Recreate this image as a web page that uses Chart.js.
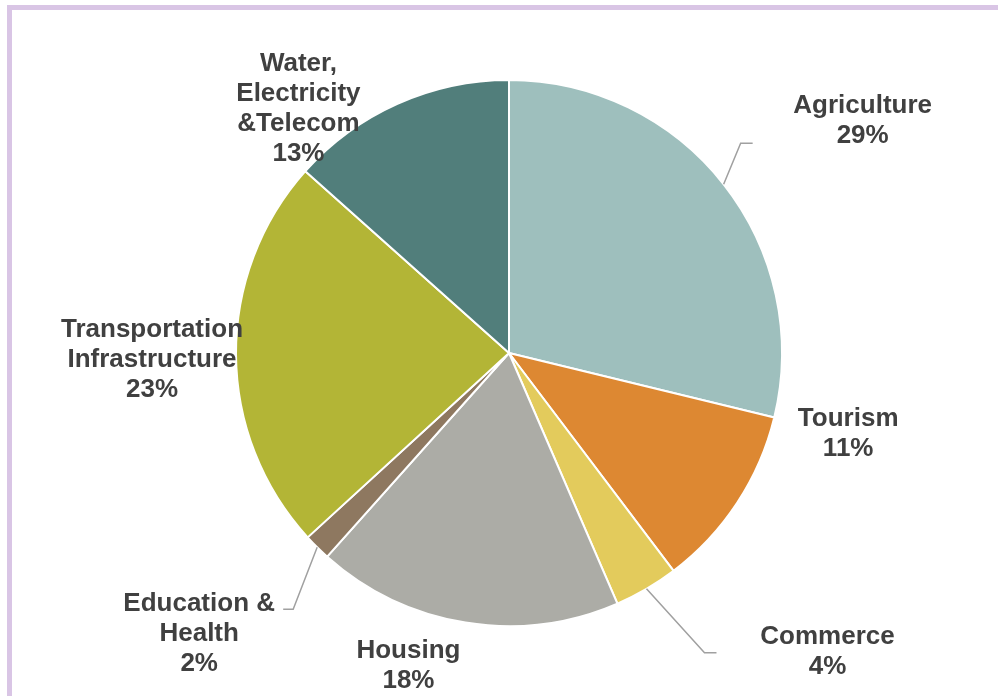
<!DOCTYPE html>
<html>
<head>
<meta charset="utf-8">
<script src="https://cdn.jsdelivr.net/npm/chart.js@4/dist/chart.umd.min.js"></script>
<style>
  html, body { margin: 0; padding: 0; background: #ffffff; overflow: hidden; }
  #wrap { position: relative; width: 998px; height: 696px; }
  #frame { position: absolute; left: 7px; top: 5px; width: 1200px; height: 900px;
           border-left: 5px solid #d9c5e5; border-top: 5px solid #d9c5e5; box-sizing: border-box; }
  canvas { position: absolute; left: 0; top: 0; }
</style>
</head>
<body>
<div id="wrap">
  <div id="frame"></div>
  <canvas id="c" width="998" height="696"></canvas>
</div>
<script>
// ---- data ----
const categories = [
  ["Agriculture"],
  ["Tourism"],
  ["Commerce"],
  ["Housing"],
  ["Education &", "Health"],
  ["Transportation", "Infrastructure"],
  ["Water,", "Electricity", "&Telecom"]
];
const shares = [28.8, 10.9, 3.8, 18.1, 1.6, 23.4, 13.4];
const sliceColors = ["#9ebfbd", "#dd8832", "#e3cb5c", "#acaca6", "#8e7860", "#b3b536", "#517e7b"];

// label placement relative to each slice's outer mid-point (px)
const labelPlacement = [
  { dx: 139, dy: -63, leader: [[17, -41], [29, -41]] },
  { dx: 111, dy: -69 },
  { dx: 181, dy: 63, leader: [[58, 64], [70, 64]] },
  { dx: -57, dy: 43 },
  { dx: -118, dy: 87, leader: [[-24, 62], [-34, 62]] },
  { dx: -84, dy: 5 },
  { dx: -99, dy: 5 }
];

const total = shares.reduce((a, b) => a + b, 0);

const outsideLabels = {
  id: 'outsideLabels',
  afterDatasetsDraw(chart) {
    const ctx = chart.ctx;
    const meta = chart.getDatasetMeta(0);
    ctx.save();
    meta.data.forEach((arc, i) => {
      const p = arc.getProps(['x', 'y', 'startAngle', 'endAngle', 'outerRadius'], true);
      const mid = (p.startAngle + p.endAngle) / 2;
      const ex = p.x + Math.cos(mid) * p.outerRadius;
      const ey = p.y + Math.sin(mid) * p.outerRadius;
      const pl = labelPlacement[i];
      if (pl.leader) {
        ctx.strokeStyle = '#a0a0a0';
        ctx.lineWidth = 1.5;
        ctx.beginPath();
        ctx.moveTo(ex, ey);
        pl.leader.forEach(pt => ctx.lineTo(ex + pt[0], ey + pt[1]));
        ctx.stroke();
      }
      const lines = categories[i].concat([Math.round(shares[i] / total * 100) + '%']);
      const lh = 30;
      const cx = ex + pl.dx, cy = ey + pl.dy;
      ctx.fillStyle = '#404040';
      ctx.font = 'bold 26px "Liberation Sans", Arial, sans-serif';
      ctx.textAlign = 'center';
      ctx.textBaseline = 'middle';
      const y0 = cy - (lines.length - 1) * lh / 2;
      lines.forEach((t, k) => ctx.fillText(t, cx, y0 + k * lh));
    });
    ctx.restore();
  }
};

new Chart(document.getElementById('c'), {
  type: 'pie',
  data: {
    labels: categories.map(c => c.join(' ')),
    datasets: [{
      data: shares,
      backgroundColor: sliceColors,
      borderColor: '#ffffff',
      borderWidth: 2
    }]
  },
  options: {
    responsive: false,
    animation: false,
    radius: 273,
    layout: { padding: { left: 20, right: 0, top: 10, bottom: 0 } },
    plugins: { legend: { display: false }, tooltip: { enabled: false } }
  },
  plugins: [outsideLabels]
});
</script>
</body>
</html>
